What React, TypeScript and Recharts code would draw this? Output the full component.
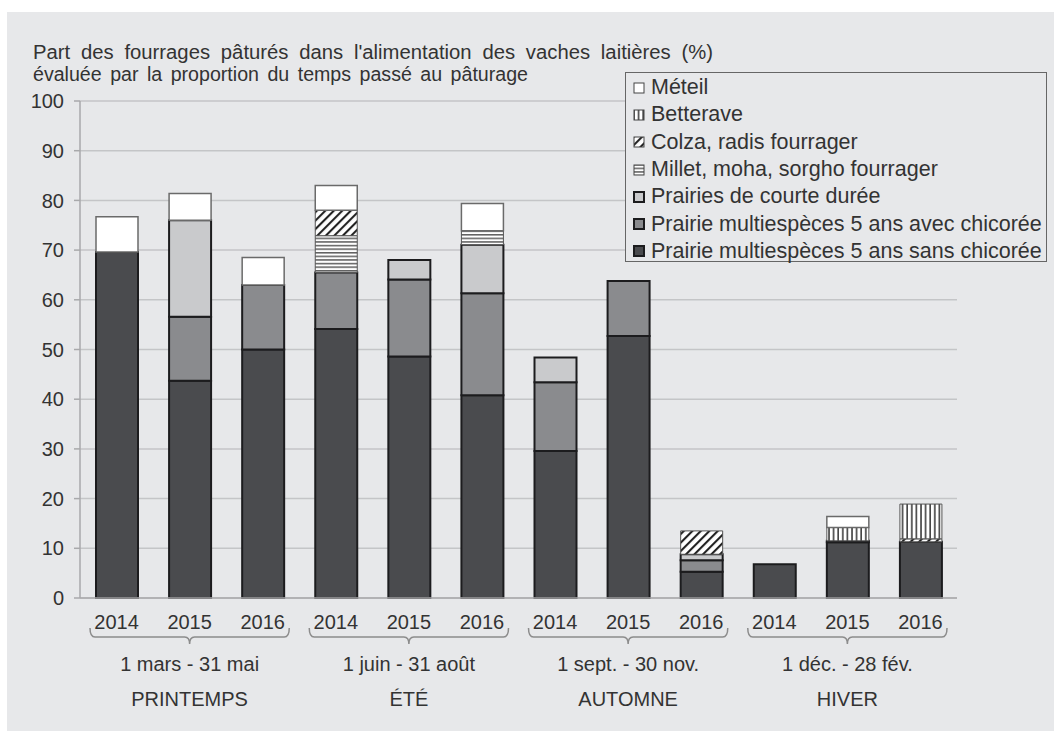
import React from 'react';
import { Bar, BarChart, CartesianGrid, Legend, XAxis, YAxis } from 'recharts';

const years = ['2014', '2015', '2016', '2014', '2015', '2016', '2014', '2015', '2016', '2014', '2015', '2016'];
const periods = ['1 mars - 31 mai', '1 juin - 31 août', '1 sept. - 30 nov.', '1 déc. - 28 fév.'];
const seasons = ['PRINTEMPS', 'ÉTÉ', 'AUTOMNE', 'HIVER'];
const yTicks = [0, 10, 20, 30, 40, 50, 60, 70, 80, 90, 100];

const sansChicoree = [69.6, 43.7, 50.0, 54.1, 48.6, 40.8, 29.6, 52.7, 5.3, 6.8, 11.2, 11.3];
const avecChicoree = [0, 12.9, 13.0, 11.4, 15.5, 20.5, 13.8, 11.1, 2.3, 0, 0.3, 0];
const courteDuree = [0, 19.4, 0, 0, 3.9, 9.8, 5.0, 0, 1.2, 0, 0, 0];
const millet = [0, 0, 0, 7.4, 0, 2.8, 0, 0, 0, 0, 0, 0];
const colza = [0, 0, 0, 5.1, 0, 0, 0, 0, 4.7, 0, 0, 0.6];
const betterave = [0, 0, 0, 0, 0, 0, 0, 0, 0, 0, 2.7, 7.0];
const meteil = [7.1, 5.4, 5.5, 5.0, 0, 5.5, 0, 0, 0, 0, 2.2, 0];

const data = years.map((year, i) => ({
  key: `${seasons[Math.floor(i / 3)]} ${year}`,
  sans: sansChicoree[i],
  avec: avecChicoree[i],
  courte: courteDuree[i],
  millet: millet[i],
  colza: colza[i],
  betterave: betterave[i],
  meteil: meteil[i],
}));

const FONT = '"Liberation Sans", Arial, sans-serif';
const TEXT = '#333';
const PANEL = '#e7e8ea';
const W = 1054;
const H = 731;
const PLOT_LEFT = 80;
const PLOT_RIGHT = 957;
const BAND = (PLOT_RIGHT - PLOT_LEFT) / 12;

// stacking order bottom -> top
const series = [
  { key: 'sans', name: 'Prairie multiespèces 5 ans sans chicorée', fill: '#4a4b4e', stroke: '#1c1c1e', sw: 2 },
  { key: 'avec', name: 'Prairie multiespèces 5 ans avec chicorée', fill: '#8a8b8e', stroke: '#1c1c1e', sw: 2 },
  { key: 'courte', name: 'Prairies de courte durée', fill: '#c9cacc', stroke: '#1c1c1e', sw: 2 },
  { key: 'millet', name: 'Millet, moha, sorgho fourrager', fill: 'url(#pMillet)', stroke: '#555', sw: 1 },
  { key: 'colza', name: 'Colza, radis fourrager', fill: 'url(#pColza)', stroke: '#555', sw: 1 },
  { key: 'betterave', name: 'Betterave', fill: 'url(#pBett)', stroke: '#555', sw: 1 },
  { key: 'meteil', name: 'Méteil', fill: '#ffffff', stroke: '#6a6a6a', sw: 1.5 },
];

const XTick = (props: any) => {
  const { x } = props;
  const i = props.index ?? props.payload?.index ?? 0;
  const g = Math.floor(i / 3);
  const half = BAND * 1.5 - 10;
  return (
    <g fontFamily={FONT}>
      <text x={x} y={629} textAnchor="middle" fontSize={20} fill={TEXT}>
        {years[i]}
      </text>
      {i % 3 === 1 && (
        <g>
          <path
            d={`M${x - half},628 Q${x - half},637 ${x - half + 5},637 L${x - 5},637 Q${x},637 ${x},644 Q${x},637 ${x + 5},637 L${x + half - 5},637 Q${x + half},637 ${x + half},628`}
            fill="none"
            stroke="#8c8c8c"
            strokeWidth={1.5}
          />
          <text x={x} y={671} textAnchor="middle" fontSize={20} fill={TEXT}>
            {periods[g]}
          </text>
          <text x={x} y={706} textAnchor="middle" fontSize={20} fill={TEXT}>
            {seasons[g]}
          </text>
        </g>
      )}
    </g>
  );
};

const LegendBox = () => (
  <div
    style={{
      width: 422,
      height: 190,
      border: '1.5px solid #666',
      background: PANEL,
      fontFamily: FONT,
      fontSize: 21.5,
      color: TEXT,
      paddingTop: 1,
      boxSizing: 'border-box',
    }}
  >
    {[...series].reverse().map((s) => (
      <div key={s.key} style={{ display: 'flex', alignItems: 'center', height: 27.3, whiteSpace: 'nowrap' }}>
        <svg width={12} height={12} style={{ marginLeft: 7, marginRight: 6, flex: 'none' }}>
          <rect
            x={1}
            y={1}
            width={10}
            height={10}
            fill={s.fill}
            stroke={s.sw >= 2 ? '#1c1c1e' : '#444'}
            strokeWidth={s.sw >= 2 ? 2 : 1}
          />
        </svg>
        <span>{s.name}</span>
      </div>
    ))}
  </div>
);

export default function App() {
  return (
    <div style={{ position: 'absolute', left: 0, top: 0, width: W, height: H, background: '#fff' }}>
      <div style={{ position: 'absolute', left: 7, top: 12, right: 0, bottom: 0, background: PANEL }} />
      <svg width={W} height={100} style={{ position: 'absolute', left: 0, top: 0 }}>
        <text
          x={33}
          y={59}
          fontFamily={FONT}
          fontSize={19.5}
          fill={TEXT}
          wordSpacing={5}
          textLength={680}
          lengthAdjust="spacingAndGlyphs"
        >
          Part des fourrages pâturés dans l'alimentation des vaches laitières (%)
        </text>
        <text
          x={33}
          y={81}
          fontFamily={FONT}
          fontSize={19.5}
          fill={TEXT}
          wordSpacing={3}
          textLength={495}
          lengthAdjust="spacingAndGlyphs"
        >
          évaluée par la proportion du temps passé au pâturage
        </text>
      </svg>
      <div style={{ position: 'absolute', left: 0, top: 0 }}>
        <BarChart
          width={W}
          height={H}
          data={data}
          margin={{ top: 101, right: W - PLOT_RIGHT, bottom: 0, left: 0 }}
          barSize={42}
        >
          <defs>
            <pattern id="pMillet" width={6} height={3.6} patternUnits="userSpaceOnUse">
              <rect width={6} height={3.6} fill="#fff" />
              <line x1={0} y1={0.8} x2={6} y2={0.8} stroke="#222" strokeWidth={1.1} />
            </pattern>
            <pattern id="pColza" width={6} height={6} patternUnits="userSpaceOnUse" patternTransform="rotate(45)">
              <rect width={6} height={6} fill="#fff" />
              <line x1={1} y1={0} x2={1} y2={6} stroke="#222" strokeWidth={2.2} />
            </pattern>
            <pattern id="pBett" width={4.6} height={6} patternUnits="userSpaceOnUse">
              <rect width={4.6} height={6} fill="#fff" />
              <line x1={1} y1={0} x2={1} y2={6} stroke="#222" strokeWidth={1.4} />
            </pattern>
          </defs>
          <CartesianGrid vertical={false} stroke="#c4c5c7" strokeWidth={1.5} />
          <XAxis
            dataKey="key"
            interval={0}
            height={H - 598}
            axisLine={{ stroke: '#a8a9ab', strokeWidth: 1.5 }}
            tickLine={false}
            tick={<XTick />}
          />
          <YAxis
            type="number"
            domain={[0, 100]}
            ticks={yTicks}
            width={PLOT_LEFT}
            tickSize={6}
            tickMargin={10}
            axisLine={{ stroke: '#a8a9ab', strokeWidth: 1.5 }}
            tickLine={{ stroke: '#a8a9ab', strokeWidth: 1.5 }}
            tick={{ fontSize: 20, fill: TEXT, fontFamily: FONT }}
          />
          <Legend
            layout="horizontal"
            verticalAlign="middle"
            align="center"
            content={<LegendBox />}
            wrapperStyle={{ position: 'absolute', left: 625, top: 72, width: 'auto', height: 'auto' }}
          />
          {series.map((s) => (
            <Bar
              key={s.key}
              dataKey={s.key}
              name={s.name}
              stackId="a"
              fill={s.fill}
              stroke={s.stroke}
              strokeWidth={s.sw}
              isAnimationActive={false}
            />
          ))}
        </BarChart>
      </div>
    </div>
  );
}
